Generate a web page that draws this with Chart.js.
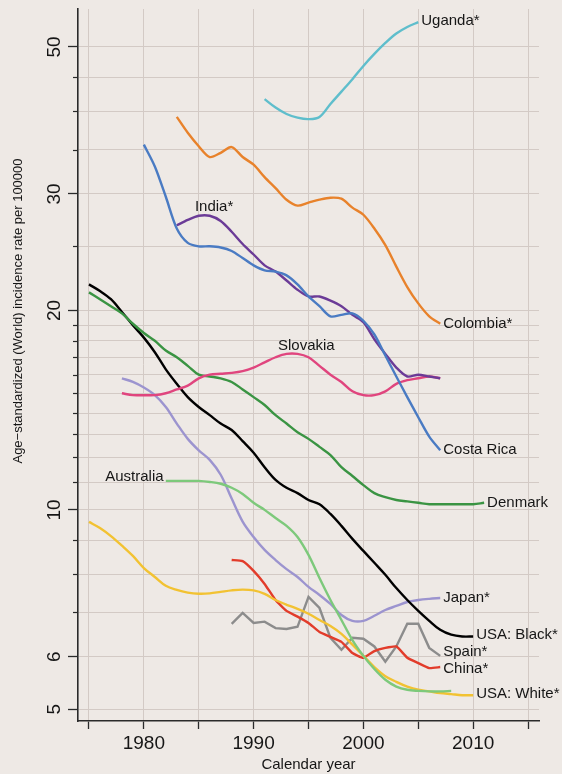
<!DOCTYPE html>
<html><head><meta charset="utf-8">
<script src="https://cdn.jsdelivr.net/npm/chart.js@4.4.1/dist/chart.umd.min.js"></script>
<style>
html,body{margin:0;padding:0;background:#EEE9E5;}
#wrap{width:562px;height:774px;}
canvas{display:block;}
</style></head><body>
<div id="wrap"><canvas id="c" width="562" height="774"></canvas></div>
<script>
// ---- axis ticks ----
const xTickYears = [1975,1980,1985,1990,1995,2000,2005,2010,2015];
const xLabelYears = [1980,1990,2000,2010];
const yGridValues = [5,6,7,8,9,10,11,12,13,14,15,16,17,18,19,20,25,30,35,40,45,50];
const yLabelValues = [5,6,10,20,30,50];

// ---- series (first year + annual rates) ----
const ugandaFrom = 1991;
const ugandaRate = [41.7,40.5,39.6,39.1,38.9,39.2,41.0,42.8,44.7,46.8,48.8,50.7,52.4,53.6,54.5];
const colombiaFrom = 1983;
const colombiaRate = [39.2,37.1,35.4,34.1,34.6,35.3,34.1,33.2,31.8,30.6,29.4,28.8,29.1,29.4,29.6,29.5,28.6,27.9,26.6,25.1,23.3,21.7,20.5,19.6,19.1];
const costaRicaFrom = 1980;
const costaRicaRate = [35.6,33.0,29.7,26.6,25.3,25.0,25.0,24.9,24.6,24.0,23.4,23.0,22.9,22.6,21.9,21.0,20.3,19.6,19.7,19.8,19.3,18.4,17.1,15.9,14.8,13.8,12.9,12.3];
const indiaFrom = 1983;
const indiaRate = [26.9,27.4,27.8,27.8,27.3,26.3,25.2,24.3,23.4,22.9,22.2,21.5,21.0,21.0,20.7,20.3,19.7,19.2,18.1,17.2,16.4,15.9,16.0,15.9,15.8];
const slovakiaFrom = 1978;
const slovakiaRate = [15.0,14.9,14.9,14.9,15.0,15.2,15.4,15.8,16.0,16.05,16.1,16.2,16.4,16.7,17.0,17.2,17.2,17.0,16.5,16.0,15.6,15.1,14.9,14.9,15.1,15.5,15.7,15.8,15.9,15.8];
const denmarkFrom = 1975;
const denmarkRate = [21.3,20.8,20.3,19.8,19.1,18.5,18.0,17.4,17.0,16.5,16.0,15.9,15.8,15.6,15.2,14.8,14.4,13.9,13.5,13.1,12.8,12.45,12.1,11.6,11.25,10.9,10.6,10.45,10.35,10.3,10.25,10.2,10.2,10.2,10.2,10.2,10.25];
const usaBlackFrom = 1975;
const usaBlackRate = [21.9,21.4,20.8,19.9,19.0,18.2,17.3,16.3,15.5,14.8,14.3,13.9,13.5,13.2,12.7,12.2,11.6,11.1,10.8,10.6,10.35,10.2,9.86,9.46,9.04,8.67,8.32,7.98,7.62,7.31,7.04,6.80,6.59,6.48,6.44,6.44];
const australiaFrom = 1982;
const australiaRate = [11.06,11.06,11.06,11.06,11.02,10.95,10.80,10.57,10.25,10.0,9.72,9.46,9.10,8.55,7.89,7.31,6.82,6.36,6.02,5.75,5.54,5.41,5.35,5.33,5.32,5.32,5.33];
const japanFrom = 1978;
const japanRate = [15.8,15.6,15.3,14.9,14.3,13.5,12.8,12.3,11.9,11.3,10.4,9.6,9.1,8.70,8.40,8.14,7.92,7.65,7.44,7.21,6.94,6.80,6.80,6.92,7.06,7.16,7.26,7.31,7.34,7.36];
const usaWhiteFrom = 1975;
const usaWhiteRate = [9.59,9.39,9.13,8.83,8.52,8.17,7.92,7.68,7.57,7.50,7.47,7.48,7.52,7.56,7.58,7.56,7.47,7.31,7.19,7.09,6.97,6.82,6.68,6.50,6.26,6.02,5.79,5.61,5.50,5.41,5.35,5.32,5.29,5.27,5.25,5.25];
const chinaFrom = 1988;
const chinaRate = [8.40,8.37,8.09,7.73,7.31,7.04,6.90,6.75,6.54,6.43,6.32,6.08,5.98,6.12,6.19,6.22,5.98,5.87,5.77,5.79];
const spainFrom = 1988;
const spainRate = [6.73,6.99,6.75,6.78,6.63,6.61,6.66,7.39,7.11,6.41,6.15,6.41,6.39,6.22,5.90,6.22,6.73,6.73,6.19,6.02];

// ---- label placement (non-end labels and small nudges) ----
const labelSpots = {
  'India*':   {x:1986.4, y:28.7, align:'center'},
  'Slovakia': {x:1994.8, y:17.7, align:'center'},
  'Australia':{x:1981.8, y:11.2, align:'right'}
};
const labelNudge = { 'Spain*': -4, 'China*': 2, 'USA: Black*': -2, 'USA: White*': -1, 'Uganda*': -1 };

function pts(from, vals){ return vals.map((v,i)=>({x:from+i, y:v})); }

const FONT = '"Liberation Sans", Arial, Helvetica, sans-serif';
const AX = '#2a2a2a';
const GRID = '#D3CAC5';

function ds(label, from, vals, color, tension){
  return {label, data: pts(from, vals), borderColor: color, backgroundColor: color,
          borderWidth: 2.4, pointRadius: 0, fill: false, tension: tension};
}

const datasets = [
  ds('Uganda*', ugandaFrom, ugandaRate, '#5FBECC', 0.35),
  ds('Colombia*', colombiaFrom, colombiaRate, '#E8822B', 0.3),
  ds('Costa Rica', costaRicaFrom, costaRicaRate, '#4A7BC3', 0.3),
  ds('India*', indiaFrom, indiaRate, '#6B3B97', 0.3),
  ds('Slovakia', slovakiaFrom, slovakiaRate, '#E0457E', 0.35),
  ds('Denmark', denmarkFrom, denmarkRate, '#3A9443', 0.35),
  ds('USA: Black*', usaBlackFrom, usaBlackRate, '#000000', 0.35),
  ds('Australia', australiaFrom, australiaRate, '#7DC97B', 0.35),
  ds('Japan*', japanFrom, japanRate, '#9C94CF', 0.35),
  ds('USA: White*', usaWhiteFrom, usaWhiteRate, '#F2C232', 0.35),
  ds('China*', chinaFrom, chinaRate, '#E23C2B', 0.15),
  ds('Spain*', spainFrom, spainRate, '#8C8C8C', 0)
];

const labelPlugin = {
  id: 'seriesLabels',
  afterDatasetsDraw(chart){
    const {ctx} = chart; const xs = chart.scales.x, ys = chart.scales.y;
    ctx.save();
    ctx.font = '15px ' + FONT;
    ctx.fillStyle = '#161616';
    ctx.textBaseline = 'middle';
    chart.data.datasets.forEach(d => {
      const spot = labelSpots[d.label];
      let px, py, align;
      if (spot){ px = xs.getPixelForValue(spot.x); py = ys.getPixelForValue(spot.y); align = spot.align; }
      else { const last = d.data[d.data.length-1]; px = xs.getPixelForValue(last.x) + 3; py = ys.getPixelForValue(last.y); align = 'left'; }
      py += (labelNudge[d.label] || 0);
      ctx.textAlign = align;
      ctx.fillText(d.label, px, py);
    });
    ctx.restore();
  },
  afterDraw(chart){
    const {ctx} = chart; const ys = chart.scales.y;
    ctx.save();
    // minor ticks on y axis
    ctx.strokeStyle = AX; ctx.lineWidth = 1.2;
    yGridValues.filter(v => !yLabelValues.includes(v)).forEach(v => {
      const p = Math.round(ys.getPixelForValue(v)) + 0.5;
      ctx.beginPath(); ctx.moveTo(ys.right - 5, p); ctx.lineTo(ys.right, p); ctx.stroke();
    });
    // y axis title
    ctx.font = '13px ' + FONT;
    ctx.fillStyle = '#161616';
    ctx.textAlign = 'center'; ctx.textBaseline = 'middle';
    ctx.translate(18, 311);
    ctx.rotate(-Math.PI/2);
    ctx.fillText('Age\u2212standardized (World) incidence rate per 100000', 0, 0);
    ctx.restore();
  }
};

new Chart(document.getElementById('c'), {
  type: 'line',
  data: { datasets },
  options: {
    responsive: false,
    devicePixelRatio: 1,
    animation: false,
    layout: { padding: { left: 0, top: 9, right: 23, bottom: 0 } },
    plugins: { legend: { display: false }, tooltip: { enabled: false } },
    scales: {
      x: {
        type: 'linear', min: 1974, max: 2016,
        afterBuildTicks: s => { s.ticks = xTickYears.map(v => ({value: v})); },
        afterFit: s => { s.height = 53; s.paddingLeft = 0; s.paddingRight = 0; },
        ticks: { callback: v => xLabelYears.includes(v) ? String(v) : '', font: { size: 19, family: FONT }, color: '#161616', padding: 3, maxRotation: 0, autoSkip: false },
        grid: { color: GRID, lineWidth: 1, tickColor: AX, tickLength: 8, tickWidth: 1.3 },
        border: { display: true, color: AX, width: 1.6 },
        title: { display: true, text: 'Calendar year', font: { size: 15, family: FONT }, color: '#161616', padding: { top: 0, bottom: 0 } }
      },
      y: {
        type: 'logarithmic', min: 4.8, max: 57.05,
        afterBuildTicks: s => { s.ticks = yGridValues.map(v => ({value: v})); },
        afterFit: s => { s.width = 78; s.paddingTop = 0; s.paddingBottom = 0; },
        ticks: { callback: v => yLabelValues.includes(v) ? String(v) : '', font: { size: 19, family: FONT }, color: '#161616', padding: 3, minRotation: 90, maxRotation: 90, crossAlign: 'center', autoSkip: false },
        grid: { color: GRID, lineWidth: 1, tickLength: 10, tickWidth: 1.3,
                tickColor: c => (c.tick && yLabelValues.includes(c.tick.value)) ? AX : 'rgba(0,0,0,0)' },
        border: { display: true, color: AX, width: 1.6 }
      }
    }
  },
  plugins: [labelPlugin]
});
</script>
</body></html>
